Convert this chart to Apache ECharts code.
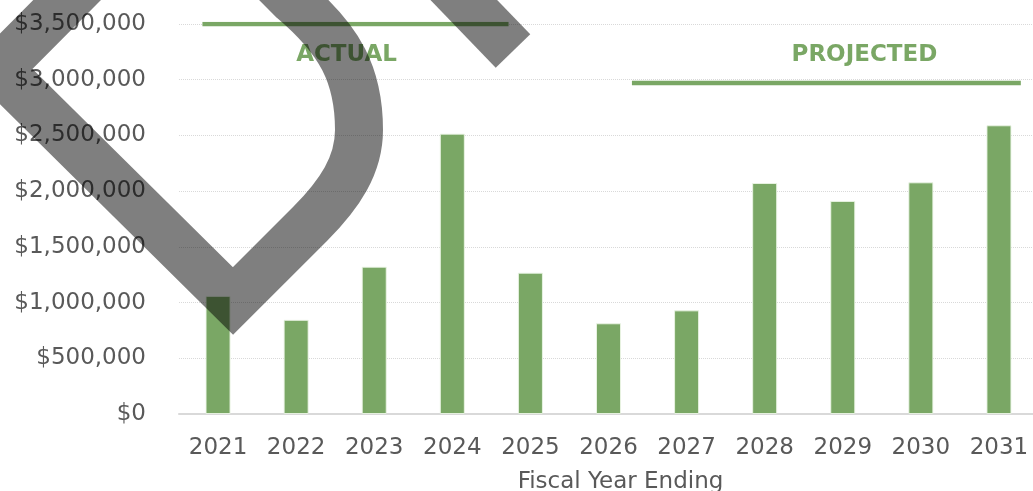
<!DOCTYPE html>
<html>
<head>
<meta charset="utf-8">
<script src="https://cdn.jsdelivr.net/npm/echarts@6/dist/echarts.min.js"></script>
<style>
html,body{margin:0;padding:0;background:#fff;overflow:hidden;width:100%;height:100%;}
#chart{position:absolute;left:0;top:0;width:1033px;height:491px;}
</style>
</head>
<body>
<div id="chart"></div>
<script>
// ---- data ----
const years = ['2021','2022','2023','2024','2025','2026','2027','2028','2029','2030','2031'];
const revenue = [1060000, 845000, 1322000, 2516000, 1268000, 814000, 930000, 2073000, 1912000, 2079000, 2591000];
const yTicks = [0, 500000, 1000000, 1500000, 2000000, 2500000, 3000000, 3500000];
const xTitle = 'Fiscal Year Ending';
// annotation spans in category-index units, with the level they sit at
const actualSpan = [-0.2, 3.72];
const actualLevel = 3500000;
const projectedSpan = [5.3, 10.28];
const projectedLevel = 2970000;
const sectionLabels = ['ACTUAL', 'PROJECTED'];
const sectionLabelX = [1.646, 8.277];
const sectionLabelLevel = 3222000;

const green = '#7AA765';
const textGray = '#595959';
const font = 'DejaVu Sans';

// overlay scribble shapes (decoration drawn over the chart)
echarts.graphic.registerShape('scribbleA', echarts.graphic.extendPath(
  'M 90 -23 L -1.5 69 L 233 301 L 310 224 C 340 194 359 165 359 130 C 359 75 340 40 293 0 L 250 -43', {}));
echarts.graphic.registerShape('scribbleB', echarts.graphic.extendPath('M 403 -63 L 513 51', {}));

const chart = echarts.init(document.getElementById('chart'), null, {renderer: 'canvas', width: 1033, height: 491});
chart.setOption({
  animation: false,
  backgroundColor: '#fff',
  grid: {left: 179, right: -5, top: 24, bottom: 77, containLabel: false, outerBoundsMode: 'none'},
  xAxis: [{
    type: 'category',
    data: years,
    axisTick: {show: false},
    axisLine: {lineStyle: {color: '#d9d9d9', width: 2}},
    axisLabel: {color: textGray, fontFamily: font, fontSize: 23, margin: 23},
    name: xTitle,
    nameLocation: 'middle',
    nameGap: 57,
    nameTextStyle: {color: textGray, fontFamily: font, fontSize: 23, padding: [0, 0, 0, 24]}
  }, {
    type: 'value',
    min: -0.5,
    max: 10.5,
    show: false
  }],
  yAxis: {
    type: 'value',
    min: yTicks[0],
    max: yTicks[yTicks.length - 1],
    interval: yTicks[1] - yTicks[0],
    axisLine: {show: false},
    axisTick: {show: false},
    splitLine: {lineStyle: {color: '#d9d9d9', type: 'dotted', width: 1}},
    axisLabel: {
      color: textGray, fontFamily: font, fontSize: 23, margin: 33,
      formatter: v => '$' + v.toLocaleString('en-US')
    }
  },
  series: [{
    type: 'bar',
    data: revenue,
    barWidth: 25,
    itemStyle: {color: green, borderColor: 'rgba(235,245,230,0.9)', borderWidth: 1}
  }, {
    type: 'line',
    xAxisIndex: 1,
    data: [[actualSpan[0], actualLevel], [actualSpan[1], actualLevel]],
    symbol: 'none',
    lineStyle: {color: green, width: 4.5},
    z: 3
  }, {
    type: 'line',
    xAxisIndex: 1,
    data: [[projectedSpan[0], projectedLevel], [projectedSpan[1], projectedLevel]],
    symbol: 'none',
    lineStyle: {color: green, width: 4.5},
    z: 3
  }, {
    type: 'scatter',
    xAxisIndex: 1,
    symbolSize: 1,
    itemStyle: {color: 'rgba(0,0,0,0)', opacity: 1},
    data: sectionLabels.map((n, i) => ({name: n, value: [sectionLabelX[i], sectionLabelLevel]})),
    label: {
      show: true, position: 'inside', formatter: '{b}', opacity: 1,
      color: green, fontFamily: font, fontWeight: 'bold', fontSize: 23
    },
    z: 4
  }],
  graphic: [{
    type: 'scribbleA',
    z: 100,
    style: {fill: 'none', stroke: 'rgba(0,0,0,0.5)', lineWidth: 48, lineJoin: 'miter', lineCap: 'butt'}
  }, {
    type: 'scribbleB',
    z: 100,
    style: {fill: 'none', stroke: 'rgba(0,0,0,0.5)', lineWidth: 48, lineCap: 'butt'}
  }]
});
</script>
</body>
</html>
